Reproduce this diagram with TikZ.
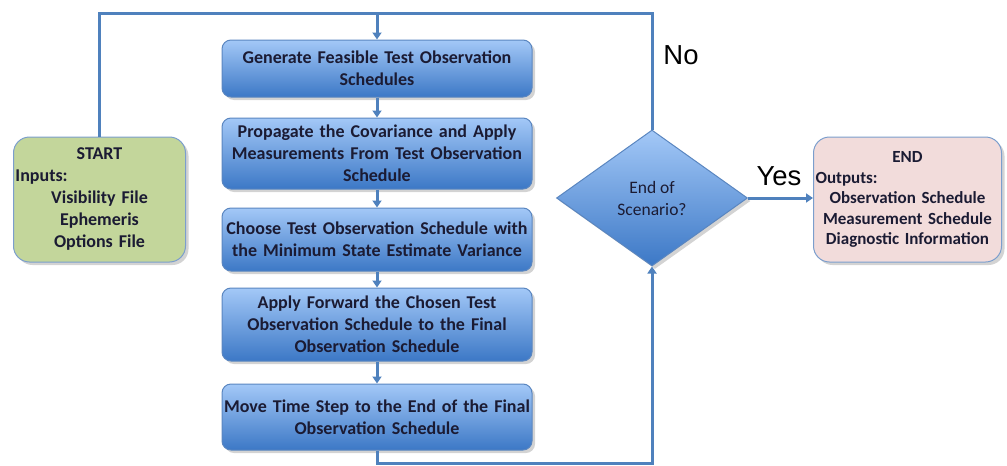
\documentclass[tikz,border=0pt]{standalone}
\usepackage{fontspec}
\setmainfont{Carlito}
\newfontfamily\arialfont{Liberation Sans}
\usetikzlibrary{shapes.geometric}
\usetikzlibrary{shadows}
\usetikzlibrary{arrows.meta}

\definecolor{flowline}{HTML}{4F81BD}
\definecolor{boxtop}{HTML}{A3C8F7}
\definecolor{boxbottom}{HTML}{3C78C6}
\definecolor{boxedge}{HTML}{5A86C0}
\definecolor{startfill}{HTML}{C3D69B}
\definecolor{endfill}{HTML}{F2DCDB}
\definecolor{inktext}{HTML}{1B1B33}

\tikzset{
    stepbox/.style={rectangle, rounded corners=9pt, draw=boxedge, line width=1pt,
        top color=boxtop, bottom color=boxbottom, minimum width=310pt,
        text width=306pt, align=center, font=\fontsize{18}{22}\selectfont\bfseries,
        text=inktext, inner sep=0pt, drop shadow={opacity=0.35, shadow xshift=3pt, shadow yshift=-3pt}},
    termbox/.style={rectangle, rounded corners=16pt, draw=boxedge!80, line width=1pt,
        align=center, minimum height=125pt, inner sep=2pt,
        text=inktext, drop shadow={opacity=0.35, shadow xshift=3pt, shadow yshift=-3pt}},
    decision/.style={diamond, draw=boxedge, line width=1pt, top color=boxtop,
        bottom color=boxbottom, minimum width=191pt, minimum height=136pt,
        inner sep=0pt, align=center, font=\fontsize{17.5}{22}\selectfont, text=inktext,
        drop shadow={opacity=0.35, shadow xshift=3pt, shadow yshift=-3pt}},
    flow/.style={draw=flowline, line width=3pt},
    flowarrow/.style={flow, -{Triangle[width=9pt,length=7pt]}},
    answer/.style={font=\arialfont\fontsize{27.5}{30}\selectfont, text=black}
}

\begin{document}
\begin{tikzpicture}[x=1pt,y=-1pt]
    \useasboundingbox (0,0) rectangle (1007,466);

    \node[stepbox, minimum height=57pt] (gen) at (377,68.5)
        {Generate Feasible Test Observation\\Schedules};
    \node[stepbox, minimum height=71pt] (prop) at (377,153.5)
        {Propagate the Covariance and Apply\\Measurements From Test Observation\\Schedule};
    \node[stepbox, minimum height=63pt] (choose) at (377,239.5)
        {Choose Test Observation Schedule with\\the Minimum State Estimate Variance};
    \node[stepbox, minimum height=73pt] (apply) at (377,324.5)
        {Apply Forward the Chosen Test\\Observation Schedule to the Final\\Observation Schedule};
    \node[stepbox, minimum height=66pt] (move) at (377,417)
        {Move Time Step to the End of the Final\\Observation Schedule};

    \node[decision] (check) at (652,198) {End of\\Scenario?};

    \node[termbox, fill=startfill, text width=168pt,
        font=\fontsize{18}{22}\selectfont\bfseries] (start) at (99.5,199.5)
        {START\\\makebox[\hsize][l]{Inputs:}\\Visibility File\\Ephemeris\\Options File};
    \node[termbox, fill=endfill, text width=184pt,
        font=\fontsize{17}{20.5}\selectfont\bfseries] (stop) at (907.5,199.5)
        {END\\\makebox[\hsize][l]{Outputs:}\\Observation Schedule\\Measurement Schedule\\Diagnostic Information};

    \coordinate (topleft) at (start.north |- 0,13);
    \coordinate (topright) at (check.north |- 0,13);
    \coordinate (bottomleft) at (move.south |- 0,463);
    \coordinate (bottomright) at (check.south |- 0,463);

    % loop back to the top
    \draw[flow] (start.north) -- (topleft) -- (topright) -- (check.north);
    \draw[flowarrow] (gen.north |- topleft) -- (gen.north);

    \draw[flowarrow] (gen) -- (prop);
    \draw[flowarrow] (prop) -- (choose);
    \draw[flowarrow] (choose) -- (apply);
    \draw[flowarrow] (apply) -- (move);

    \draw[flowarrow] (move.south) -- (bottomleft) -- (bottomright) -- (check.south);
    \draw[flowarrow] (check.east) -- (check.east -| stop.west);

    \node[answer] (no) at (681,55) {No};
    \node[answer] (yes) at (779,176) {Yes};
\end{tikzpicture}
\end{document}
